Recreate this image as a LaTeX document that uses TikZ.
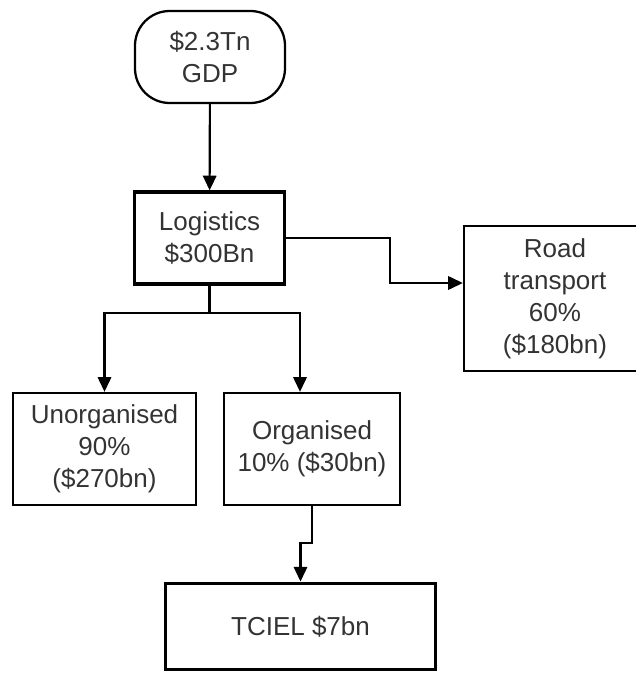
\documentclass[tikz,border=0pt]{standalone}
\usepackage{fontspec}
\setmainfont{Liberation Sans}
\usetikzlibrary{arrows.meta}
\begin{document}
\begin{tikzpicture}[x=0.75pt,y=-0.75pt,>={Triangle[length=11pt,width=10pt]},line join=miter,
	font=\fontsize{19.5}{24}\selectfont,
	box/.style={draw,line width=1.7pt,align=center,inner sep=0pt,text=black!80},
	bigbox/.style={box,line width=2.4pt},
	link/.style={line width=1.6pt}]
			\useasboundingbox (0,0) rectangle (635,673);
			% boxes
			\node [box,rounded corners=26pt,minimum width=112.5pt,minimum height=69pt] (gdp) at (210,57) {\$2.3Tn\\GDP};
			\node [bigbox,minimum width=113pt,minimum height=69pt] (logi) at (209.5,238) {Logistics\\\$300Bn};
			\node [box,minimum width=136.5pt,minimum height=109pt] (road) at (555,298.5) {Road\\transport\\60\%\\(\$180bn)};
			\node [box,minimum width=137pt,minimum height=84pt] (unorg) at (104.5,449) {Unorganised\\90\%\\(\$270bn)};
			\node [box,minimum width=132pt,minimum height=84pt] (org) at (312,449) {Organised\\10\% (\$30bn)};
			\node [bigbox,minimum width=203pt,minimum height=65pt] (tciel) at (300.5,626.5) {TCIEL \$7bn};
			% bends
			\coordinate (rbend) at (390,283);
			\coordinate (split) at (209.5,313);
			\coordinate (tbend) at (312,543);
			% links
			\draw [link,->] (gdp) -- (logi);
			\draw [link,->] (logi.east) -| (rbend) -- (road.west |- rbend);
			\draw [link] (logi.south) -- (split);
			\draw [link,->] (split) -| (unorg.north);
			\draw [link,->] (split) -| ([xshift=-9pt]org.north);
			\draw [link,->] (org.south) -- (tbend) -| (tciel.north);
		\end{tikzpicture}
\end{document}
